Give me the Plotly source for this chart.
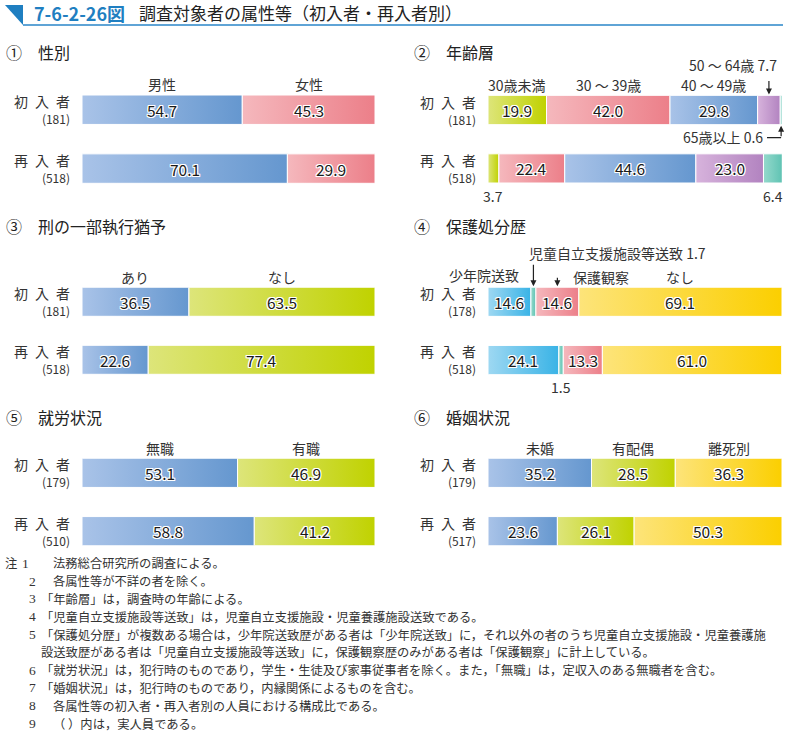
import plotly.graph_objects as go

W, H = 791, 732

# ---------------- data ----------------
row_names = ["初\u2002入\u2002者", "再\u2002入\u2002者"]

sex_cats = ["男性", "女性"]
sex_n = [181, 518]
sex_first = [54.7, 45.3]
sex_re = [70.1, 29.9]

age_cats = ["30歳未満", "30 ～ 39歳", "40 ～ 49歳", "50 ～ 64歳", "65歳以上"]
age_n = [181, 518]
age_first = [19.9, 42.0, 29.8, 7.7, 0.6]
age_re = [3.7, 22.4, 44.6, 23.0, 6.4]

susp_cats = ["あり", "なし"]
susp_n = [181, 518]
susp_first = [36.5, 63.5]
susp_re = [22.6, 77.4]

prot_cats = ["少年院送致", "児童自立支援施設等送致", "保護観察", "なし"]
prot_n = [178, 518]
prot_first = [14.6, 1.7, 14.6, 69.1]
prot_re = [24.1, 1.5, 13.3, 61.0]

emp_cats = ["無職", "有職"]
emp_n = [179, 510]
emp_first = [53.1, 46.9]
emp_re = [58.8, 41.2]

mar_cats = ["未婚", "有配偶", "離死別"]
mar_n = [179, 517]
mar_first = [35.2, 28.5, 36.3]
mar_re = [23.6, 26.1, 50.3]

notes = [
    ("1", "法務総合研究所の調査による。"),
    ("2", "各属性等が不詳の者を除く。"),
    ("3", "「年齢層」は，調査時の年齢による。"),
    ("4", "「児童自立支援施設等送致」は，児童自立支援施設・児童養護施設送致である。"),
    ("5", "「保護処分歴」が複数ある場合は，少年院送致歴がある者は「少年院送致」に，それ以外の者のうち児童自立支援施設・児童養護施"),
    ("", "設送致歴がある者は「児童自立支援施設等送致」に，保護観察歴のみがある者は「保護観察」に計上している。"),
    ("6", "「就労状況」は，犯行時のものであり，学生・生徒及び家事従事者を除く。また，「無職」は，定収入のある無職者を含む。"),
    ("7", "「婚姻状況」は，犯行時のものであり，内縁関係によるものを含む。"),
    ("8", "各属性等の初入者・再入者別の人員における構成比である。"),
    ("9", "（ ）内は，実人員である。"),
]

# ---------------- styles ----------------
GRAD = {
    "blue":   ("#a9c3e8", "#6597cf"),
    "pink":   ("#f5b8bd", "#ec7f89"),
    "green":  ("#dde57a", "#c0d200"),
    "purple": ("#d7b3dc", "#b283c0"),
    "teal":   ("#95d9cc", "#5fc3b3"),
    "cyan":   ("#9ed8f2", "#39b3e6"),
    "yellow": ("#fde47a", "#fbcf00"),
}
FONT = "Noto Sans CJK JP"
TXT = "#333333"
HALO = ("1px 1px 0px #fff, -1px -1px 0px #fff, 1px -1px 0px #fff, -1px 1px 0px #fff, "
        "0px 1px 0px #fff, 0px -1px 0px #fff, 1px 0px 0px #fff, -1px 0px 0px #fff")

panels = [
    dict(title="①　性別", cats=sex_cats, n=sex_n, vals=[sex_first, sex_re],
         colors=["blue", "pink"], px=(82, 375), py=(95.0, 183.3), tpos=(4, 51.7)),
    dict(title="②　年齢層", cats=age_cats, n=age_n, vals=[age_first, age_re],
         colors=["green", "pink", "blue", "purple", "teal"], px=(488, 782), py=(95.5, 183.0), tpos=(412, 51.7)),
    dict(title="③　刑の一部執行猶予", cats=susp_cats, n=susp_n, vals=[susp_first, susp_re],
         colors=["blue", "green"], px=(82, 375), py=(287.3, 374.3), tpos=(4, 225.5)),
    dict(title="④　保護処分歴", cats=prot_cats, n=prot_n, vals=[prot_first, prot_re],
         colors=["cyan", "teal", "pink", "yellow"], px=(488, 782), py=(287.3, 374.5), tpos=(412, 226.5)),
    dict(title="⑤　就労状況", cats=emp_cats, n=emp_n, vals=[emp_first, emp_re],
         colors=["blue", "green"], px=(82, 375), py=(458.3, 545.7), tpos=(4, 416.7)),
    dict(title="⑥　婚姻状況", cats=mar_cats, n=mar_n, vals=[mar_first, mar_re],
         colors=["blue", "green", "yellow"], px=(488, 782), py=(458.3, 545.7), tpos=(412, 416.7)),
]

HALF = 0.25  # half bar thickness in row units


def pxx(x):
    return x / W


def pxy(y):
    return 1 - y / H


fig = go.Figure()
annotations = []
shapes = []
layout_axes = {}


def cum_bounds(vals):
    out = []
    c = 0.0
    for v in vals:
        out.append((c, c + v))
        c += v
    return out


for i, p in enumerate(panels, start=1):
    xa = "x" if i == 1 else f"x{i}"
    ya = "y" if i == 1 else f"y{i}"
    xk = "xaxis" if i == 1 else f"xaxis{i}"
    yk = "yaxis" if i == 1 else f"yaxis{i}"
    layout_axes[xk] = dict(domain=[pxx(p["px"][0]), pxx(p["px"][1])], range=[0, 100],
                           visible=False, fixedrange=True, anchor=ya)
    layout_axes[yk] = dict(domain=[pxy(p["py"][1]), pxy(p["py"][0])], range=[1 + HALF, -HALF],
                           visible=False, fixedrange=True, anchor=xa)

    for r, vals in enumerate(p["vals"]):
        for k, ((x0, x1), v) in enumerate(zip(cum_bounds(vals), vals)):
            c0, c1 = GRAD[p["colors"][k]]
            fig.add_trace(go.Scatter(
                x=[x0, x1, x1, x0, x0],
                y=[r - HALF, r - HALF, r + HALF, r + HALF, r - HALF],
                mode="lines", fill="toself",
                fillgradient=dict(type="horizontal", colorscale=[[0, c0], [1, c1]]),
                line=dict(color="white", width=1),
                xaxis=xa, yaxis=ya, showlegend=False, hoverinfo="skip"))
            if v >= 10:
                annotations.append(dict(
                    x=(x0 + x1) / 2, y=r, xref=xa, yref=ya, text=f"{v:.1f}", showarrow=False,
                    font=dict(family=FONT, size=15.5, color="#1a1a1a", shadow=HALO)))

        # row labels (name + count)
        annotations.append(dict(
            x=pxx(p["px"][0] - 10), y=r, xref="paper", yref=ya,
            text=f"<span style='font-size:14px'>{row_names[r]}</span><br><span style='font-size:12px'>({p['n'][r]})</span>",
            showarrow=False, xanchor="right", yanchor="middle", align="right", yshift=0.5,
            font=dict(family=FONT, size=13, color=TXT)))

    # section title
    annotations.append(dict(
        x=pxx(p["tpos"][0]), y=pxy(p["tpos"][1]), xref="paper", yref="paper",
        text=p["title"], showarrow=False, xanchor="left", yanchor="middle",
        font=dict(family=FONT, size=16, color="#222222")))

    # category labels above first bar
    b0 = cum_bounds(p["vals"][0])
    for k, cat in enumerate(p["cats"]):
        if i == 2 and k >= 3:
            continue
        if i == 4 and k <= 2:
            continue
        annotations.append(dict(
            x=(b0[k][0] + b0[k][1]) / 2, y=-HALF, xref=xa, yref=ya, text=cat,
            showarrow=False, xanchor="center", yanchor="middle", yshift=10.5,
            font=dict(family=FONT, size=14, color=TXT)))

# ---- panel 2 special labels ----
a0 = cum_bounds(age_first)
a1 = cum_bounds(age_re)
lab = dict(family=FONT, size=14, color=TXT)
annotations.append(dict(x=pxx(779), y=pxy(65), xref="paper", yref="paper",
                        text=f"{age_cats[3]} {age_first[3]:.1f}", showarrow=False,
                        xanchor="right", yanchor="middle", font=lab))
annotations.append(dict(x=(a0[3][0] + a0[3][1]) / 2, y=-HALF, xref="x2", yref="y2", text="",
                        showarrow=True, arrowhead=2, arrowsize=1, arrowwidth=1.2, arrowcolor="#222",
                        ax=0, ay=-16, standoff=1))
annotations.append(dict(x=pxx(765), y=pxy(136.7), xref="paper", yref="paper",
                        text=f"{age_cats[4]} {age_first[4]:.1f}", showarrow=False,
                        xanchor="right", yanchor="middle", font=lab))
c5 = (a0[4][0] + a0[4][1]) / 2
annotations.append(dict(x=c5, y=HALF, xref="x2", yref="y2", text="",
                        showarrow=True, arrowhead=2, arrowsize=1, arrowwidth=1.2, arrowcolor="#222",
                        ax=0, ay=13, standoff=1))
shapes.append(dict(type="line", xref="x2", yref="y2", x0=c5 - 4.8, x1=c5,
                   y0=HALF + 13 / 58.5, y1=HALF + 13 / 58.5, line=dict(color="#222", width=1.2)))
for k in (0, 4):
    annotations.append(dict(x=(a1[k][0] + a1[k][1]) / 2, y=1 + HALF, xref="x2", yref="y2",
                            text=f"{age_re[k]:.1f}", showarrow=False, yanchor="middle", yshift=-12.5,
                            font=dict(family=FONT, size=14, color=TXT)))

# ---- panel 4 special labels ----
p0 = cum_bounds(prot_first)
p1 = cum_bounds(prot_re)
annotations.append(dict(x=pxx(520), y=pxy(275.3), xref="paper", yref="paper", text=prot_cats[0],
                        showarrow=False, xanchor="right", yanchor="middle", borderpad=0, font=lab))
annotations.append(dict(x=pxx(527), y=pxy(253), xref="paper", yref="paper",
                        text=f"{prot_cats[1]} {prot_first[1]:.1f}", showarrow=False,
                        xanchor="left", yanchor="middle", font=lab))
annotations.append(dict(x=(p0[1][0] + p0[1][1]) / 2, y=-HALF, xref="x4", yref="y4", text="",
                        showarrow=True, arrowhead=2, arrowsize=1, arrowwidth=1.2, arrowcolor="#222",
                        ax=0, ay=-24, standoff=1))
c3 = (p0[2][0] + p0[2][1]) / 2
annotations.append(dict(x=c3, y=-HALF, xref="x4", yref="y4", text="",
                        showarrow=True, arrowhead=2, arrowsize=1, arrowwidth=1.2, arrowcolor="#222",
                        ax=0, ay=-11, standoff=1))
shapes.append(dict(type="line", xref="x4", yref="y4", x0=c3, x1=c3 + 2.8,
                   y0=-HALF - 11 / 58.5, y1=-HALF - 11 / 58.5, line=dict(color="#222", width=1.2)))
annotations.append(dict(x=pxx(571), y=pxy(277.5), xref="paper", yref="paper", text=prot_cats[2],
                        showarrow=False, xanchor="left", yanchor="middle", font=lab))
annotations.append(dict(x=(p1[1][0] + p1[1][1]) / 2, y=1 + HALF, xref="x4", yref="y4",
                        text=f"{prot_re[1]:.1f}", showarrow=False, yanchor="middle", yshift=-12.5,
                        font=dict(family=FONT, size=14, color=TXT)))

# ---- figure title ----
shapes.append(dict(type="path", xref="paper", yref="paper",
                   path=f"M {pxx(5)},{pxy(5)} L {pxx(23)},{pxy(5)} L {pxx(23)},{pxy(25)} Z",
                   fillcolor="#1f7fc1", line=dict(width=0)))
shapes.append(dict(type="line", xref="paper", yref="paper", x0=pxx(23), x1=pxx(783),
                   y0=pxy(25), y1=pxy(25), line=dict(color="#2a86c8", width=1.6)))
annotations.append(dict(x=pxx(32), y=pxy(13), xref="paper", yref="paper", text="<b>7-6-2-26図</b>",
                        showarrow=False, xanchor="left", yanchor="middle",
                        font=dict(family=FONT, size=18, color="#1f7fc1")))
annotations.append(dict(x=pxx(137), y=pxy(13), xref="paper", yref="paper",
                        text="調査対象者の属性等（初入者・再入者別）", showarrow=False,
                        xanchor="left", yanchor="middle",
                        font=dict(family=FONT, size=17, color="#222222")))

# ---- notes ----
y0n = 563.3
dy = 17.8
for j, (num, txt) in enumerate(notes):
    yy = pxy(y0n + j * dy)
    if j == 0:
        annotations.append(dict(x=pxx(4), y=yy, xref="paper", yref="paper", text="注",
                                showarrow=False, xanchor="left", yanchor="middle", borderpad=0,
                                font=dict(family=FONT, size=12.3, color=TXT)))
    if num:
        annotations.append(dict(x=pxx(32 if j else 26), y=yy, xref="paper", yref="paper", text=num,
                                showarrow=False, xanchor="center", yanchor="middle", borderpad=0,
                                font=dict(family="Liberation Serif", size=13.5, color=TXT)))
    if txt.startswith("「") or not num:
        xs = 40
    else:
        xs = 52
    annotations.append(dict(x=pxx(xs), y=yy, xref="paper", yref="paper", text=txt,
                            showarrow=False, xanchor="left", yanchor="middle", borderpad=0,
                            font=dict(family=FONT, size=12.3, color=TXT)))

fig.update_layout(
    width=W, height=H, margin=dict(l=0, r=0, t=0, b=0),
    paper_bgcolor="white", plot_bgcolor="white",
    showlegend=False, annotations=annotations, shapes=shapes,
    **layout_axes,
)

fig.write_html("out.html", config={"displayModeBar": False},
               post_script="document.body.style.margin='0px';")
